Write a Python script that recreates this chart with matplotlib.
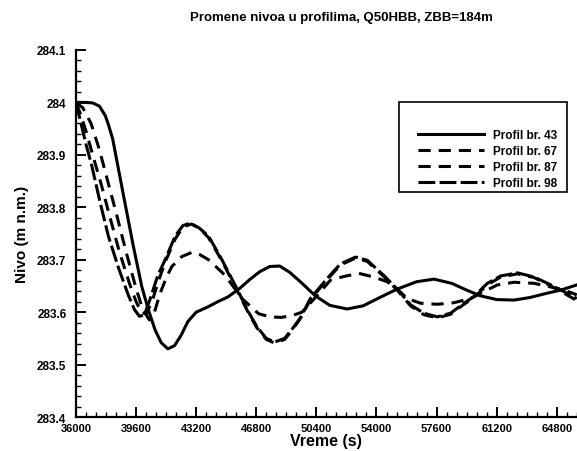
import matplotlib
matplotlib.use('Agg')
import matplotlib.pyplot as plt
from matplotlib.patches import Rectangle
from matplotlib.ticker import MultipleLocator

plt.rcParams['font.family'] = ['Liberation Sans', 'DejaVu Sans']
plt.rcParams['font.weight'] = 'bold'

# ----- data --------------------------

# Profil br. 43 (solid)
t43 = [36000, 36600, 37000, 37400, 37750, 37940, 38200, 38440, 38940, 39440, 39940,
       40340, 40740, 41100, 41500, 41900, 42300, 42700, 43200, 43900, 44500,
       45100, 45800, 46400, 47000, 47600, 48200, 48800, 49440, 50340, 51200,
       52240, 53200, 54200, 55240, 56400, 57440, 58500, 59400, 60240, 61200,
       62240, 63200, 64200, 65040, 66000]
z43 = [284.0, 284.0, 283.999, 283.993, 283.975, 283.958, 283.93, 283.89, 283.807, 283.725, 283.649,
       283.604, 283.566, 283.542, 283.53, 283.536, 283.556, 283.582, 283.60, 283.61, 283.62,
       283.629, 283.645, 283.662, 283.677, 283.687, 283.688, 283.676, 283.658, 283.631, 283.613,
       283.606, 283.612, 283.628, 283.644, 283.658, 283.663, 283.655, 283.642, 283.631, 283.624,
       283.623, 283.628, 283.636, 283.642, 283.652]

# Profil br. 67 (dashed, smaller swing)
t67 = [36000, 36400, 36900, 37400, 37900, 38400, 39000, 39600, 40000, 40400,
       40700, 41040, 41400, 41740, 42340, 42940, 43400, 43940, 44940, 45940,
       46940, 47600, 48300, 49000, 49540, 50340, 51240, 52040, 52940, 53840,
       54640, 55240, 55840, 56640, 57640, 58640, 59640, 60240, 61240, 62240,
       63440, 64440, 65240, 66000]
z67 = [284.0, 283.99, 283.96, 283.91, 283.85, 283.79, 283.715, 283.645, 283.605, 283.585,
       283.60, 283.636, 283.665, 283.687, 283.706, 283.714, 283.71, 283.70, 283.67, 283.626,
       283.597, 283.591, 283.59, 283.594, 283.60, 283.628, 283.661, 283.668, 283.674, 283.667,
       283.658, 283.644, 283.626, 283.617, 283.615, 283.618, 283.626, 283.636, 283.652, 283.657,
       283.655, 283.648, 283.642, 283.633]

# Profil br. 87 (dashed)
t87 = [36000, 36300, 36600, 37000, 37500, 38000, 38600, 39200, 39600, 39950,
       40250, 40600, 41000, 41400, 41950, 42400, 42900, 43400, 43940, 44740,
       45540, 46340, 46840, 47400, 47900, 48500, 49000, 49440, 50040, 51040,
       51840, 52740, 53440, 54440, 55240, 56040, 56840, 57640, 58440, 59240,
       59840, 60640, 61440, 62440, 63440, 64440, 65240, 66000]
z87 = [284.0, 283.975, 283.945, 283.9, 283.845, 283.785, 283.715, 283.655, 283.62, 283.598,
       283.598, 283.625, 283.665, 283.70, 283.74, 283.762, 283.768, 283.76, 283.742, 283.698,
       283.648, 283.598, 283.570, 283.548, 283.541, 283.548, 283.568, 283.588, 283.624, 283.662,
       283.69, 283.703, 283.697, 283.668, 283.642, 283.612, 283.595, 283.589, 283.596, 283.615,
       283.628, 283.652, 283.667, 283.673, 283.666, 283.650, 283.636, 283.622]

# Profil br. 98 (long dash)
t98 = [36000, 36300, 36600, 36940, 37440, 37940, 38540, 39140, 39500, 39800,
       40100, 40440, 40900, 41340, 41940, 42400, 42840, 43400, 43940, 44740,
       45540, 46340, 46840, 47400, 47900, 48500, 49000, 49440, 50040, 51040,
       51840, 52740, 53440, 54440, 55240, 56040, 56840, 57640, 58440, 59240,
       59840, 60640, 61440, 62440, 63440, 64440, 65240, 66000]
z98 = [284.0, 283.96, 283.92, 283.88, 283.81, 283.745, 283.685, 283.632, 283.605, 283.592,
       283.595, 283.625, 283.67, 283.70, 283.745, 283.765, 283.77, 283.76, 283.745, 283.70,
       283.651, 283.60, 283.572, 283.55, 283.543, 283.55, 283.57, 283.589, 283.626, 283.664,
       283.692, 283.705, 283.699, 283.670, 283.644, 283.614, 283.598, 283.591, 283.598, 283.617,
       283.630, 283.655, 283.669, 283.675, 283.667, 283.652, 283.639, 283.626]

x_ticks = [36000, 39600, 43200, 46800, 50400, 54000, 57600, 61200, 64800]
y_ticks = [283.4, 283.5, 283.6, 283.7, 283.8, 283.9, 284.0, 284.1]
y_tick_labels = ['283.4', '283.5', '283.6', '283.7', '283.8', '283.9', '284', '284.1']

# ----- chart -------

fig = plt.figure(figsize=(5.77, 4.52), dpi=100)
ax = fig.add_axes([0.1317, 0.0752, 0.868, 0.812])

lw = 2.2
ax.plot(t43, z43, color='black', lw=lw, label='Profil br. 43')
ax.plot(t67, z67, color='black', lw=lw, dashes=(4, 2.6), label='Profil br. 67')
ax.plot(t87, z87, color='black', lw=lw, dashes=(4, 2.6), label='Profil br. 87')
ax.plot(t98, z98, color='black', lw=lw, dashes=(5.5, 1.4), label='Profil br. 98')

ax.set_xlim(36000, 66000)
ax.set_ylim(283.4, 284.1)
ax.set_xticks(x_ticks)
ax.set_yticks(y_ticks)
ax.set_yticklabels(y_tick_labels)
ax.xaxis.set_minor_locator(MultipleLocator(600))
ax.yaxis.set_minor_locator(MultipleLocator(0.02))

ax.spines['top'].set_visible(False)
ax.spines['right'].set_visible(False)
ax.spines['left'].set_linewidth(1.6)
ax.spines['bottom'].set_linewidth(1.6)
ax.tick_params(which='major', direction='in', length=7, width=1.4, labelsize=8)
ax.tick_params(axis='y', which='major', labelsize=8.5, pad=7)
ax.tick_params(axis='x', which='major', pad=4)
ax.tick_params(which='minor', direction='in', length=3.5, width=1.0)
for lab in ax.get_xticklabels() + ax.get_yticklabels():
    lab.set_fontweight('bold')

ax.set_xlabel('Vreme (s)', fontsize=11.5, fontweight='bold', labelpad=0)
ax.set_ylabel('Nivo (m n.m.)', fontsize=11, fontweight='bold', labelpad=6)

fig.text(0.591, 0.96, 'Promene nivoa u profilima, Q50HBB, ZBB=184m',
         ha='center', va='center', fontsize=9.5, fontweight='bold')

# legend box drawn separately (extra room on top like the original)
fig.patches.append(Rectangle((0.6915, 0.573), 0.291, 0.199, transform=fig.transFigure,
                             fill=False, edgecolor='black', linewidth=1.2))
leg = ax.legend(loc='upper left', bbox_to_anchor=(412 / 577, 1 - 124 / 452),
                bbox_transform=fig.transFigure, frameon=False, borderpad=0,
                handlelength=5.6, handletextpad=0.8, labelspacing=0.35,
                prop={'size': 8.5, 'weight': 'bold'})

fig.savefig('out.png', dpi=100)
plt.close(fig)
